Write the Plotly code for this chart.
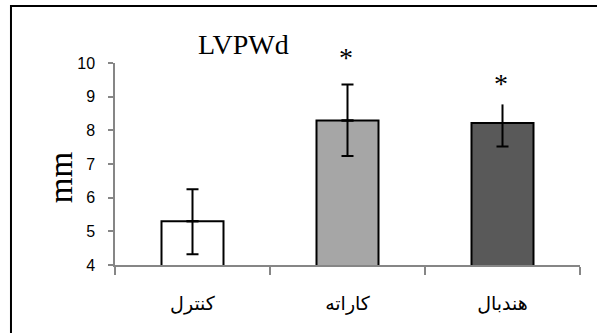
import plotly.graph_objects as go

categories = ["کنترل", "کاراته", "هندبال"]
values = [5.3, 8.29, 8.22]
err_plus = [0.95, 1.07, 0.55]
err_minus = [0.98, 1.05, 0.70]
top_cap = [True, True, False]
bar_colors = ["#ffffff", "#a6a6a6", "#595959"]
star_labels = ["", "*", "*"]
y_ticks = [4, 5, 6, 7, 8, 9, 10]

star_shift = [0, 27, 21]  # pixel offset of the star above the error-bar top

fig = go.Figure()
fig.add_trace(go.Bar(
    x=categories, y=values, width=0.4,
    marker=dict(color=bar_colors, line=dict(color="black", width=2)),
    showlegend=False,
))
# lower error bars (all with caps)
fig.add_trace(go.Scatter(
    x=categories, y=values, mode="markers",
    marker=dict(size=1, opacity=0),
    error_y=dict(type="data", symmetric=False, array=[0, 0, 0], arrayminus=err_minus,
                 color="black", thickness=2, width=6),
    showlegend=False, hoverinfo="skip",
))
# upper error bars
for i, c in enumerate(categories):
    fig.add_trace(go.Scatter(
        x=[c], y=[values[i]], mode="markers",
        marker=dict(size=1, opacity=0),
        error_y=dict(type="data", symmetric=False, array=[err_plus[i]], arrayminus=[0],
                     color="black", thickness=2, width=6 if top_cap[i] else 0),
        showlegend=False, hoverinfo="skip",
    ))

for i, c in enumerate(categories):
    if star_labels[i]:
        fig.add_annotation(x=c, y=values[i] + err_plus[i], xref="x", yref="y",
                           text=star_labels[i], showarrow=False, yanchor="middle",
                           yshift=star_shift[i], xshift=-2,
                           font=dict(family="Liberation Serif", size=28, color="black"))

fig.add_annotation(x=0.277, y=1.094, xref="paper", yref="paper", text="LVPWd",
                   showarrow=False, xanchor="center", yanchor="middle",
                   font=dict(family="Liberation Serif", size=28, color="black"))
fig.add_annotation(x=-0.117, y=0.433, xref="paper", yref="paper", text="mm",
                   showarrow=False, textangle=-90, xanchor="center", yanchor="middle",
                   font=dict(family="Liberation Serif", size=33, color="black"))

fig.add_shape(type="rect", xref="paper", yref="paper",
              x0=-0.2237, x1=1.06, y0=-0.36, y1=1.282,
              line=dict(color="black", width=2), fillcolor="rgba(0,0,0,0)")

fig.update_layout(
    width=597, height=333,
    margin=dict(l=115, r=17, t=63, b=68),
    paper_bgcolor="white", plot_bgcolor="white",
    xaxis=dict(type="category", range=[-0.5, 2.5], showline=True, linecolor="#868686",
               linewidth=1.5, ticks="outside", tickson="boundaries", ticklen=8,
               tickcolor="#868686", tickwidth=1.5, showgrid=False, zeroline=False,
               tickfont=dict(family="DejaVu Sans", size=19, color="black"),
               ticklabelstandoff=20),
    yaxis=dict(range=[4, 10], tickvals=y_ticks, showline=True, linecolor="#868686",
               linewidth=1.5, ticks="outside", ticklen=5, tickcolor="#868686",
               tickwidth=1.5, showgrid=False, zeroline=False,
               tickfont=dict(family="Liberation Sans", size=16, color="black"),
               ticklabelstandoff=10),
)

fig.write_html("out.html")
